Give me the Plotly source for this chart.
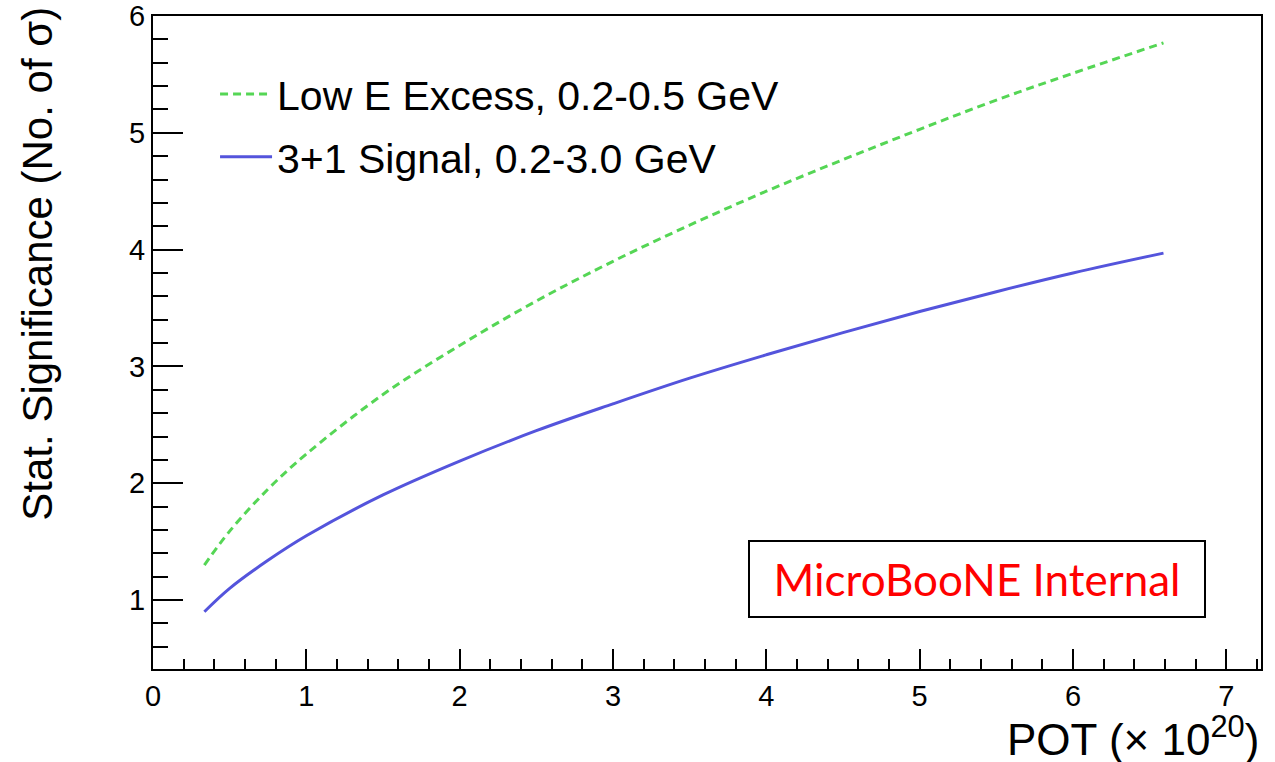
import plotly.graph_objects as go

pot = [0.335, 0.5, 0.75, 1.0, 1.5, 2.0, 2.5, 3.0, 3.5, 4.0, 4.5, 5.0, 5.5, 6.0, 6.59]
lee_sig = [1.30, 1.59, 1.95, 2.25, 2.76, 3.18, 3.56, 3.90, 4.21, 4.50, 4.77, 5.03, 5.28, 5.51, 5.77]
sterile_sig = [0.90, 1.10, 1.34, 1.55, 1.90, 2.19, 2.45, 2.68, 2.90, 3.10, 3.29, 3.47, 3.64, 3.80, 3.97]
names = ["Low E Excess, 0.2-0.5 GeV", "3+1 Signal, 0.2-3.0 GeV"]
x_ticks = [0, 1, 2, 3, 4, 5, 6, 7]
y_ticks = [1, 2, 3, 4, 5, 6]

GREEN = "#55d655"
BLUE = "#5454dc"
FONT = "Liberation Sans, Arial, sans-serif"

fig = go.Figure()
fig.add_trace(go.Scatter(x=pot, y=lee_sig, mode="lines", name=names[0], showlegend=True,
                         line=dict(color=GREEN, width=3, dash="8px,5px", shape="spline"),
                         legend="legend"))
fig.add_trace(go.Scatter(x=pot, y=sterile_sig, mode="lines", name=names[1], showlegend=True,
                         line=dict(color=BLUE, width=3, shape="spline"),
                         legend="legend2"))

axis_common = dict(showline=True, linecolor="black", linewidth=2, mirror=True,
                   showgrid=False, zeroline=False, ticks="inside", tickcolor="black",
                   tickwidth=2, ticklabeloverflow="allow", automargin=False,
                   tickfont=dict(family=FONT, size=29, color="black"))

fig.update_xaxes(range=[0, 7.226], tickvals=x_ticks, ticklen=20,
                 minor=dict(dtick=0.2, tick0=0, ticks="inside", ticklen=10, tickcolor="black", tickwidth=2),
                 **axis_common)
fig.update_yaxes(range=[0.41, 6.0], tickvals=y_ticks, ticklen=30,
                 minor=dict(dtick=0.2, tick0=0, ticks="inside", ticklen=15, tickcolor="black", tickwidth=2),
                 **axis_common)

leg_common = dict(font=dict(family=FONT, size=41, color="black"), bgcolor="rgba(0,0,0,0)",
                  xanchor="left", yanchor="middle", itemwidth=52, visible=True)
fig.update_layout(
    width=1275, height=762,
    margin=dict(l=153, r=14, t=16, b=93),
    paper_bgcolor="white", plot_bgcolor="white",
    showlegend=True,
    legend=dict(x=0.056, y=0.88, **leg_common),
    legend2=dict(x=0.056, y=0.784, **leg_common),
    annotations=[
        dict(text="POT (× 10<sup>20</sup>)", xref="paper", yref="paper", x=1.0, y=-0.103,
             xanchor="right", yanchor="middle", showarrow=False,
             font=dict(family=FONT, size=44, color="black")),
        dict(text="Stat. Significance (No. of σ)", xref="paper", yref="paper", x=-0.104, y=1.017,
             xanchor="center", yanchor="top", textangle=-90, showarrow=False,
             font=dict(family=FONT, size=42, color="black")),
        dict(text="MicroBooNE Internal", xref="paper", yref="paper",
             x=(976.5 - 153) / 1108, y=(669 - 578.5) / 653, xanchor="center", yanchor="middle",
             showarrow=False, width=450, height=70, bordercolor="black", borderwidth=2,
             borderpad=2, bgcolor="white",
             font=dict(family="Lato, Open Sans, sans-serif", size=44, color="red")),
    ],
)

fig.write_html("out.html")
